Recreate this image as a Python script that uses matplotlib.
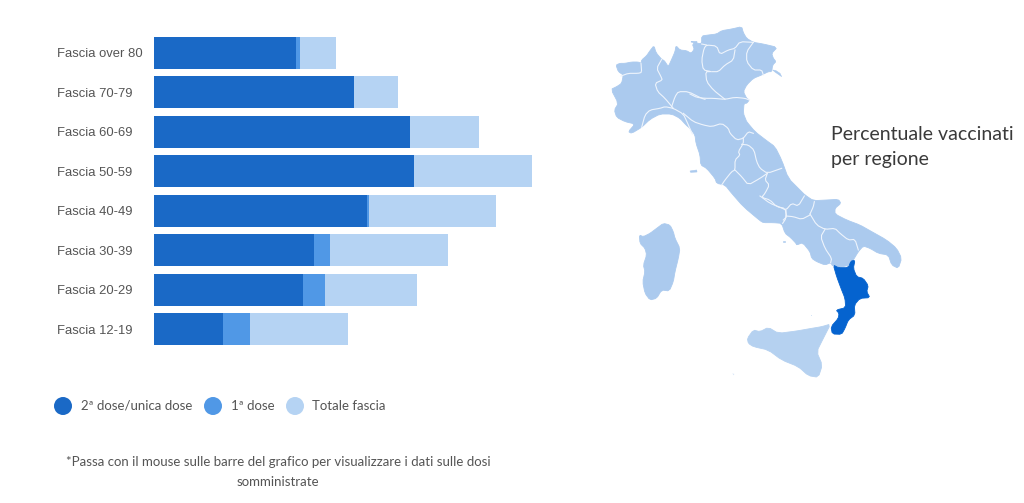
import matplotlib
matplotlib.use("Agg")
import matplotlib.pyplot as plt
from matplotlib.patches import Polygon, Circle

# Vaccinated people by age band, millions
categories = ["Fascia over 80", "Fascia 70-79", "Fascia 60-69", "Fascia 50-59",
              "Fascia 40-49", "Fascia 30-39", "Fascia 20-29", "Fascia 12-19"]
second_dose = [3.55, 5.00, 6.40, 6.50, 5.33, 4.00, 3.73, 1.73]
first_dose = [0.10, 0.00, 0.00, 0.00, 0.05, 0.40, 0.55, 0.67]
band_total = [4.55, 6.10, 8.13, 9.45, 8.55, 7.35, 6.58, 4.85]

legend_labels = ["2ª dose/unica dose", "1ª dose", "Totale fascia"]
DARK, MID, LIGHT = "#1a69c6", "#5098e6", "#b5d3f3"
TEXT = "#555555"
W, H = 1024, 503

# Map tiles: each outline is stored at 3x scale relative to its tile's corner
NW = (605, 40)
NE = (690, 20)
CENTRE = (680, 110)
SOUTH = (760, 190)
TOE = (825, 255)
SICILY = (740, 315)
SARDINIA = (630, 215)


def trace(origin, pts):
    return [(origin[0] + x / 3, origin[1] + y / 3) for x, y in pts]


def soften(pts, closed=True):
    """One corner-cutting pass, so the outlines read as coastlines rather than facets."""
    out = [] if closed else [pts[0]]
    pairs = zip(pts, pts[1:] + pts[:1]) if closed else zip(pts, pts[1:])
    for (x0, y0), (x1, y1) in pairs:
        out.append((0.8 * x0 + 0.2 * x1, 0.8 * y0 + 0.2 * y1))
        out.append((0.2 * x0 + 0.8 * x1, 0.2 * y0 + 0.8 * y1))
    if not closed:
        out.append(pts[-1])
    return out


mainland = (
    trace(NW, [(33, 75), (45, 70), (60, 70), (80, 66), (100, 66), (108, 70), (110, 60), (125, 47), (135, 32),
               (147, 17), (153, 38), (170, 58), (178, 62), (190, 80), (200, 58), (210, 35), (213, 17), (225, 30),
               (245, 32), (258, 40), (268, 28), (262, 12), (280, 5)])
    + trace(NE, [(0, 65), (15, 68), (35, 72), (35, 48), (55, 45), (80, 42), (95, 32), (125, 27), (155, 20), (160, 38),
                 (170, 55), (190, 67), (220, 72), (262, 82), (245, 100), (250, 115), (258, 125), (248, 135), (245, 155),
                 (235, 155), (215, 165), (190, 175), (170, 195), (160, 215), (170, 235), (178, 240), (170, 250),
                 (162, 250), (160, 280), (168, 300)])
    + trace(CENTRE, [(200, 35), (225, 65), (260, 92), (285, 110), (305, 150), (325, 205), (360, 240)])
    + trace(SOUTH, [(135, 15), (160, 32), (200, 30), (235, 28), (243, 40), (225, 55), (225, 72), (260, 90), (300, 105),
                    (330, 122), (380, 150), (410, 175), (425, 205), (415, 235), (395, 225), (385, 195), (355, 190),
                    (330, 175), (310, 168), (295, 185), (280, 210), (270, 225), (240, 232), (218, 228), (212, 218),
                    (195, 225), (170, 215), (155, 205), (150, 185), (128, 158), (110, 165), (108, 160), (92, 143),
                    (75, 130), (65, 100), (40, 98), (10, 98), (0, 92)])
    + trace(CENTRE, [(190, 290), (155, 250), (135, 225), (110, 220), (105, 205), (80, 175), (62, 165), (60, 135),
                     (48, 100), (45, 75), (30, 55), (18, 45)])
    + trace(NW, [(225, 235), (200, 222), (165, 222), (135, 238), (110, 262), (80, 280), (70, 275), (90, 252), (60, 245),
                 (35, 232), (28, 210), (40, 190), (18, 148), (35, 140), (50, 130), (55, 105), (40, 95)])
)

calabria = trace(TOE, [
    (25, 30), (40, 38), (70, 38), (78, 18), (90, 16), (85, 40), (95, 65), (115, 70), (130, 92), (125, 110),
    (135, 128), (105, 130), (88, 150), (90, 180), (70, 195), (60, 220), (50, 238), (22, 237), (18, 215), (40, 190),
    (42, 175), (33, 165), (62, 158), (60, 130), (48, 100), (35, 65)])
sicily = trace(SICILY, [
    (22, 70), (40, 45), (60, 50), (85, 37), (115, 55), (170, 48), (215, 40), (245, 35), (272, 27), (250, 70),
    (230, 110), (247, 150), (235, 187), (205, 182), (175, 155), (125, 135), (85, 105), (40, 95), (25, 85)])
sardinia = trace(SARDINIA, [
    (28, 60), (40, 65), (60, 55), (80, 40), (100, 25), (120, 30), (130, 50), (135, 70), (150, 100), (145, 130),
    (135, 170), (130, 200), (118, 228), (95, 225), (80, 250), (60, 255), (45, 235), (38, 200), (45, 170), (40, 150),
    (50, 120), (45, 100), (30, 85)])
elba = trace(CENTRE, [(30, 183), (50, 180), (51, 186), (32, 187)])
gulf_spit = trace(NE, [(248, 150), (258, 152), (270, 160), (275, 170), (268, 165), (255, 156)])
ischia = trace(SOUTH, [(70, 152), (76, 152), (76, 156), (70, 156)])
egadi = trace(SICILY, [(-23, 175), (-17, 177), (-19, 181)])
ustica = trace(SICILY, [(214, 1), (217, 1), (217, 4), (214, 4)])

# Regional boundaries, grouped by the tile they were laid out on
borders = [
    (NW, [
        [(48, 108), (70, 100), (100, 100), (110, 97), (108, 70)],
        [(170, 58), (155, 85), (168, 110), (172, 120), (150, 130), (158, 155), (180, 175), (205, 205)],
        [(110, 262), (120, 225), (135, 210), (165, 205), (180, 200), (205, 205), (235, 222), (248, 250), (262, 282)],
        [(200, 200), (210, 170), (220, 155), (250, 155), (290, 175), (300, 178)],
    ]),
    (NE, [
        [(0, 222), (20, 232), (45, 235), (70, 235), (105, 238), (135, 232), (165, 235), (178, 240)],
        [(105, 238), (70, 210), (50, 185), (47, 155), (65, 155), (40, 150), (35, 120), (42, 85), (50, 75), (80, 78),
         (90, 103), (115, 90), (135, 85), (150, 65), (190, 67)],
        [(35, 72), (50, 75)],
        [(65, 155), (85, 155), (105, 135), (130, 120), (135, 90)],
        [(190, 67), (170, 95), (170, 125), (190, 150), (215, 150), (220, 165)],
    ]),
    (CENTRE, [
        [(10, 10), (40, 35), (70, 45), (95, 50), (125, 40), (145, 55), (150, 70), (170, 90), (190, 85), (205, 65),
         (220, 70)],
        [(190, 85), (190, 100), (175, 125), (180, 135), (165, 150), (165, 180), (155, 185), (135, 210), (125, 225)],
        [(185, 103), (205, 105), (222, 120), (230, 155), (240, 175), (262, 190), (305, 175)],
        [(165, 180), (185, 200), (205, 225), (240, 205), (262, 190)],
        [(262, 190), (255, 210), (268, 225), (255, 250), (245, 262), (270, 270), (290, 290), (315, 295), (320, 320),
         (310, 330)],
    ]),
    (SOUTH, [
        [(0, 18), (30, 40), (60, 52), (78, 60), (95, 40), (115, 48), (133, 18)],
        [(163, 35), (160, 50), (150, 72)],
        [(78, 60), (78, 85), (68, 100)],
        [(78, 78), (100, 80), (125, 88), (150, 75)],
        [(150, 72), (170, 105), (195, 118), (225, 115), (240, 130), (265, 150), (285, 148), (295, 180)],
        [(195, 118), (182, 140), (195, 175), (215, 205), (212, 218)],
    ]),
]

fig = plt.figure(figsize=(W / 100, H / 100), dpi=100)

# Stacked horizontal bars, placed at their pixel extents on the left
PX_PER_UNIT = 40
bar_left, bar_top, bar_bottom = 154, 33, 349
ax = fig.add_axes([bar_left / W, 1 - bar_bottom / H, 400 / W, (bar_bottom - bar_top) / H])
ax.set_xlim(0, 400 / PX_PER_UNIT)
ax.set_ylim(len(categories) - 0.5, -0.5)
for i, name in enumerate(categories):
    rest = band_total[i] - second_dose[i] - first_dose[i]
    ax.barh(i, second_dose[i], height=0.8, color=DARK)
    ax.barh(i, first_dose[i], left=second_dose[i], height=0.8, color=MID)
    ax.barh(i, rest, left=second_dose[i] + first_dose[i], height=0.8, color=LIGHT)
ax.set_yticks(range(len(categories)), categories, family="Liberation Sans", fontsize=9.4, color=TEXT)
ax.tick_params(axis="y", length=0, pad=69.8)
for label in ax.get_yticklabels():
    label.set_horizontalalignment("left")
ax.xaxis.set_visible(False)
for side in ax.spines.values():
    side.set_visible(False)
ax.patch.set_alpha(0)

# Overlay in pixel coordinates: the map, the legend and free-standing text
ov = fig.add_axes([0, 0, 1, 1])
ov.set_xlim(0, W)
ov.set_ylim(H, 0)
ov.axis("off")
ov.patch.set_alpha(0)

MAP_FILL = "#abcaee"
for shape in (mainland, sardinia):
    ov.add_patch(Polygon(soften(shape), closed=True, fc=MAP_FILL, ec=MAP_FILL, lw=0.6))
for shape in (elba, gulf_spit, ischia):
    ov.add_patch(Polygon(shape, closed=True, fc=MAP_FILL, ec=MAP_FILL, lw=0.4))
ov.add_patch(Polygon(soften(sicily), closed=True, fc="#b5d1f0", ec="#b5d1f0", lw=0.6))
for shape in (egadi, ustica):
    ov.add_patch(Polygon(shape, closed=True, fc="#d5e5f7", ec="none"))
for origin, group in borders:
    for line in group:
        ov.plot(*zip(*soften(trace(origin, line), closed=False)), color="#eef4fc", lw=0.8, solid_joinstyle="round")
ov.add_patch(Polygon(soften(calabria), closed=True, fc="#0563cf", ec="#0563cf", lw=0.6))

ov.text(831, 134, "Percentuale vaccinati", fontsize=14.0, family="Lato", color="#3a3a3a", va="center", ha="left")
ov.text(831, 159, "per regione", fontsize=14.0, family="Lato", color="#3a3a3a", va="center", ha="left")

for cx, tx, colour, label in zip((63, 213, 295), (81, 231, 312), (DARK, MID, LIGHT), legend_labels):
    ov.add_patch(Circle((cx, 406), 9, fc=colour, ec="none"))
    ov.text(tx, 405.5, label, fontsize=9.5, family="Lato", color=TEXT, va="center", ha="left")

ov.text(278, 462, "*Passa con il mouse sulle barre del grafico per visualizzare i dati sulle dosi",
        fontsize=9.5, family="Lato", color=TEXT, va="center", ha="center")
ov.text(278, 482, "somministrate", fontsize=9.5, family="Lato", color=TEXT, va="center", ha="center")

fig.savefig("out.png", dpi=100)
